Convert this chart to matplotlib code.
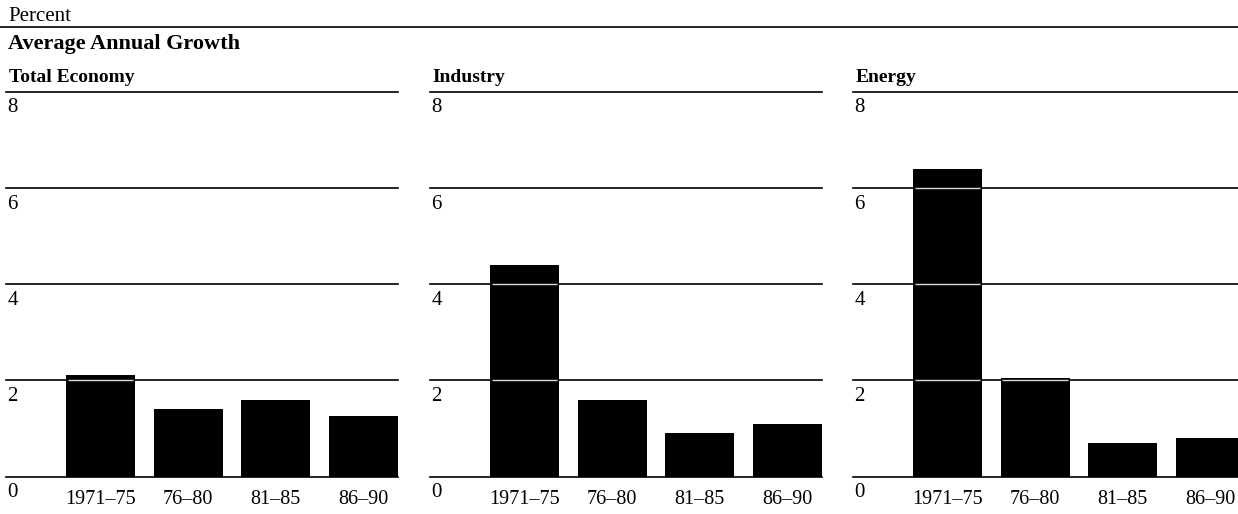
import matplotlib
matplotlib.use('Agg')
import matplotlib.pyplot as plt
from matplotlib.lines import Line2D
from matplotlib.transforms import blended_transform_factory

plt.rcParams['font.family'] = ['Liberation Serif', 'DejaVu Serif']

# Dane
periods = ['1971–75', '76–80', '81–85', '86–90']
panels = ['Total Economy', 'Industry', 'Energy']
total_economy = [2.1, 1.4, 1.6, 1.25]
industry = [4.4, 1.6, 0.9, 1.1]
energy = [6.4, 2.05, 0.7, 0.8]
series = [total_economy, industry, energy]
grid_levels = [0, 2, 4, 6, 8]

W, H = 1238, 514
fig = plt.figure(figsize=(W / 100, H / 100), dpi=100)

# Nagłówki figury
fig.text(8 / W, 1 - 21 / H, 'Percent', fontsize=15, ha='left', va='baseline')
fig.add_artist(Line2D([0, 1], [1 - 27 / H, 1 - 27 / H], color='black', lw=1.2))
fig.text(8 / W, 1 - 49 / H, 'Average Annual Growth', fontsize=16,
         fontweight='bold', ha='left', va='baseline')

lefts = [6, 430, 853]
ax_w = 392
y0_px, y8_px = 476.5, 91.5
bar_w = 0.79

for left, title, vals in zip(lefts, panels, series):
    ax = fig.add_axes([left / W, (H - y0_px) / H, ax_w / W, (y0_px - y8_px) / H])
    x = list(range(len(periods)))
    ax.bar(x, vals, width=bar_w, color='black', zorder=2)
    ax.set_xlim(-1.08, 3.395)
    ax.set_ylim(0, 8)
    for lv in grid_levels:
        ax.axhline(lv, color='black', lw=1.2, zorder=1, clip_on=False)
        # jasna linia siatki widoczna na słupkach
        for xi, v in zip(x, vals):
            if 0 < lv < v:
                ax.hlines(lv, xi - bar_w / 2 + 0.02, xi + bar_w / 2 - 0.02,
                          color='#d8d8d8', lw=1.0, zorder=3)
    trans = blended_transform_factory(ax.transAxes, ax.transData)
    for lv in grid_levels:
        ax.annotate(str(lv), xy=(0, lv), xycoords=trans, xytext=(1, -5),
                    textcoords='offset points', ha='left', va='top', fontsize=15)
    ax.annotate(title, xy=(0, 8), xycoords=trans, xytext=(2, 4),
                textcoords='offset points', ha='left', va='bottom',
                fontsize=14, fontweight='bold')
    ax.set_xticks(x)
    ax.set_xticklabels(periods, fontsize=14.5)
    ax.tick_params(axis='x', length=0, pad=10)
    ax.set_yticks([])
    for s in ax.spines.values():
        s.set_visible(False)

fig.savefig('out.png', dpi=100)
